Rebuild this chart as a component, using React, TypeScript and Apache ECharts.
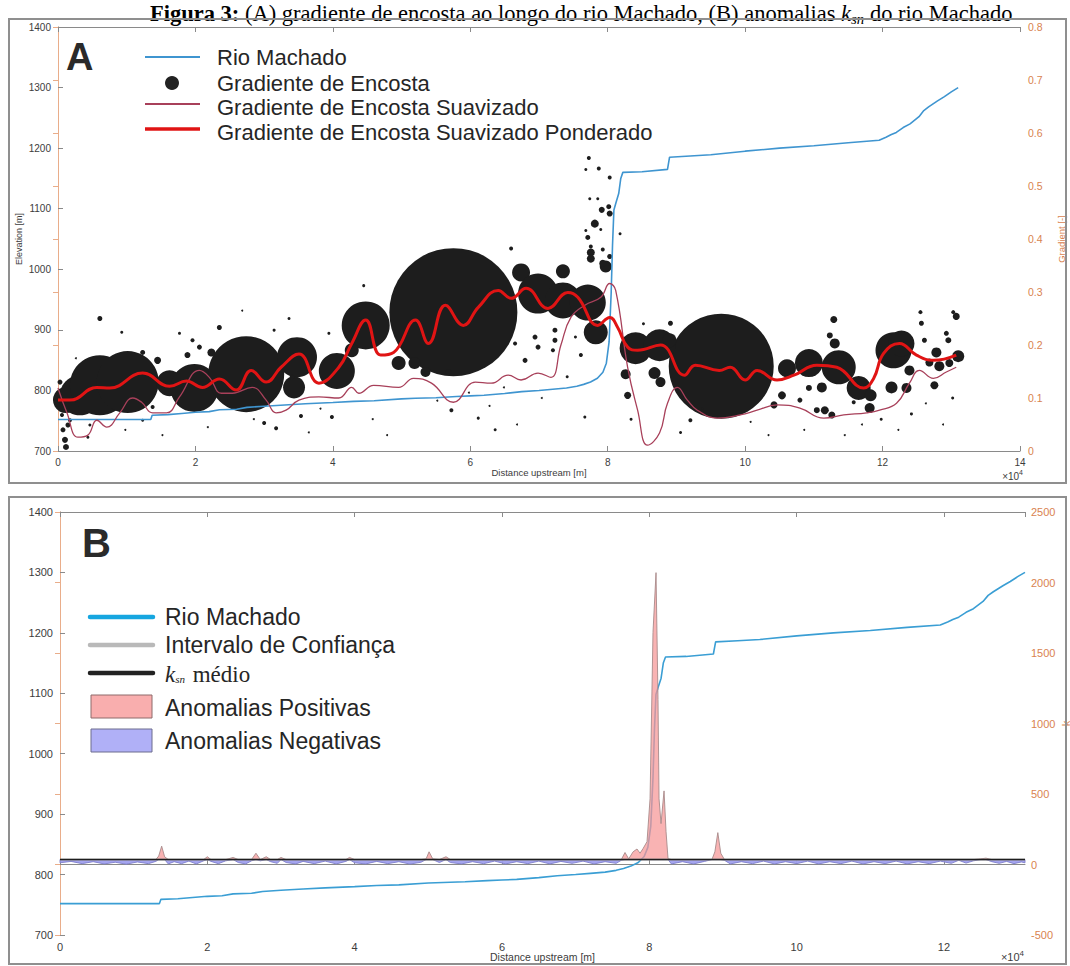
import React, { useEffect, useRef } from 'react';
import * as echarts from 'echarts';

// ---------- DATA ----------
// River long profile: [distance upstream (m), elevation (m)]
const RIVER_PROFILE: [number, number][] = [
  [0, 752], [13500, 752], [13700, 759], [16000, 760], [18000, 762], [20000, 764], [22000, 765],
  [23500, 768], [26000, 769], [27500, 772], [30000, 774], [33000, 776], [36000, 778], [40000, 780],
  [43000, 782], [46000, 783], [50000, 786], [52000, 787], [55000, 788], [58000, 790], [60000, 791],
  [62000, 792], [65000, 795], [67500, 798], [70000, 800], [72000, 802], [74000, 804], [75500, 807],
  [76500, 810], [77500, 814], [78500, 820], [79300, 830], [79800, 845], [80200, 880], [80500, 960],
  [80700, 1040], [80900, 1098], [81200, 1110], [81600, 1125], [81900, 1150], [82200, 1160],
  [85000, 1161], [88700, 1165], [89000, 1185], [92000, 1187], [95000, 1189], [100000, 1195],
  [105000, 1200], [110000, 1204], [115000, 1209], [119500, 1213], [120500, 1218], [121200, 1222],
  [122000, 1226], [123000, 1234], [124000, 1240], [125300, 1252], [126000, 1262], [126700, 1268],
  [128000, 1278], [129000, 1285], [130000, 1293], [131000, 1300]
];

// Slope-gradient points: [distance (m), gradient (-), marker diameter]
const SLOPE_POINTS: [number, number, number][] = [
  [57540, 0.262, 128], [96520, 0.160, 105],
  [1160, 0.096, 26], [3190, 0.105, 40], [6090, 0.124, 60], [10140, 0.130, 62], [16230, 0.128, 26],
  [19860, 0.119, 48], [27390, 0.145, 76], [34780, 0.177, 40], [34350, 0.120, 22], [40580, 0.151, 36],
  [44780, 0.237, 48], [42750, 0.190, 14], [49570, 0.166, 14], [51880, 0.166, 12], [53480, 0.149, 10],
  [67390, 0.337, 18], [73480, 0.339, 14], [69860, 0.297, 40], [73480, 0.284, 36], [77100, 0.280, 36],
  [78260, 0.224, 24], [77540, 0.3745, 8], [79710, 0.348, 12], [79280, 0.354, 7],
  [77250, 0.553, 4], [76810, 0.531, 3], [78700, 0.533, 4], [80290, 0.516, 4], [77390, 0.476, 3],
  [78550, 0.476, 3], [79130, 0.455, 6], [80150, 0.461, 5], [80290, 0.448, 6], [78120, 0.429, 8],
  [76810, 0.416, 3], [78990, 0.418, 3], [77100, 0.403, 5], [77540, 0.386, 4], [79280, 0.380, 4],
  [80290, 0.367, 5], [77540, 0.363, 8],
  [84060, 0.194, 32], [87540, 0.1995, 32], [88990, 0.209, 14], [82610, 0.145, 10], [82900, 0.105, 7],
  [86810, 0.147, 12], [87680, 0.130, 10], [89130, 0.241, 5],
  [106090, 0.156, 18], [109280, 0.166, 28], [113620, 0.158, 34], [116520, 0.119, 24], [118260, 0.105, 12],
  [121590, 0.190, 36], [122750, 0.203, 26], [131010, 0.179, 12], [127830, 0.186, 10], [128260, 0.160, 10],
  [126810, 0.167, 8], [129710, 0.166, 8], [130720, 0.254, 7], [130290, 0.262, 4], [125510, 0.262, 4],
  [125650, 0.241, 5], [126090, 0.209, 5], [129280, 0.222, 5], [129570, 0.209, 6], [123910, 0.152, 10],
  [123480, 0.119, 10], [121300, 0.120, 12], [127540, 0.124, 8], [112900, 0.248, 7], [112320, 0.218, 6],
  [113040, 0.203, 10], [111160, 0.120, 10], [109280, 0.119, 6], [105360, 0.105, 8], [104200, 0.087, 7],
  [111590, 0.077, 8], [112610, 0.068, 7], [118120, 0.081, 10], [107970, 0.096, 5], [110430, 0.077, 6],
  [115800, 0.092, 4],
  [725, 0.040, 5], [1015, 0.021, 6], [1160, 0.0075, 6], [1450, 0.049, 5], [580, 0.068, 4], [1740, 0.058, 4],
  [290, 0.130, 5], [6090, 0.250, 5], [4640, 0.049, 3], [4350, 0.026, 3], [12320, 0.058, 3], [13770, 0.083, 4],
  [14490, 0.171, 7], [12320, 0.186, 5], [18840, 0.181, 6], [20580, 0.196, 5], [22320, 0.186, 8],
  [23480, 0.233, 5], [19570, 0.209, 4], [17680, 0.222, 3], [30000, 0.053, 4], [31740, 0.043, 4],
  [35360, 0.066, 4], [39860, 0.064, 4], [34060, 0.139, 5], [31450, 0.228, 3], [33620, 0.250, 3],
  [39420, 0.222, 3], [26810, 0.265, 2], [9280, 0.224, 3],
  [56810, 0.149, 6], [72320, 0.228, 5], [69420, 0.215, 5], [72320, 0.209, 5], [67970, 0.171, 5],
  [69860, 0.196, 5], [72030, 0.190, 4], [76090, 0.181, 4], [66520, 0.203, 4], [57250, 0.077, 4],
  [61160, 0.062, 3], [63620, 0.040, 3], [76670, 0.064, 3], [92030, 0.058, 4], [65940, 0.382, 4],
  [44490, 0.312, 3],
  [2600, 0.175, 2], [9800, 0.040, 2], [15200, 0.030, 2], [21800, 0.045, 2], [24500, 0.095, 2],
  [28500, 0.060, 2], [36500, 0.035, 2], [38200, 0.080, 2], [45800, 0.060, 2], [47900, 0.030, 2],
  [55200, 0.095, 2], [59800, 0.110, 2], [62800, 0.085, 2], [64900, 0.120, 2], [66800, 0.050, 2],
  [70400, 0.100, 2], [74100, 0.140, 3], [75300, 0.215, 3], [81800, 0.410, 3], [83400, 0.060, 3],
  [85200, 0.240, 3], [90600, 0.035, 3], [93800, 0.080, 2], [100800, 0.055, 2], [103400, 0.030, 2],
  [108600, 0.040, 2], [114500, 0.030, 2], [117000, 0.050, 2], [119800, 0.060, 3], [122300, 0.040, 2],
  [124200, 0.070, 3], [126300, 0.090, 2], [128800, 0.050, 2], [130200, 0.100, 3]
];

// Smoothed slope gradient: [distance (m), gradient (-)]
const SLOPE_SMOOTHED: [number, number][] = [
  [0, 0.119], [1300, 0.072], [2900, 0.026], [4350, 0.030], [5650, 0.058], [7100, 0.045], [8990, 0.072],
  [10870, 0.100], [12170, 0.092], [13770, 0.072], [15800, 0.072], [17680, 0.102], [20580, 0.152],
  [22030, 0.139], [23770, 0.109], [25360, 0.109], [28260, 0.120], [30290, 0.096], [31740, 0.072],
  [33190, 0.077], [35070, 0.096], [37970, 0.102], [40870, 0.100], [42750, 0.120], [43770, 0.109],
  [45940, 0.124], [49570, 0.120], [51740, 0.137], [54350, 0.128], [57540, 0.092], [60730, 0.130],
  [63040, 0.128], [65510, 0.143], [67390, 0.134], [69860, 0.147], [71740, 0.139], [73190, 0.200],
  [74640, 0.252], [76670, 0.275], [78990, 0.290], [80290, 0.316], [81160, 0.303], [82900, 0.158],
  [84350, 0.077], [85800, 0.011], [87540, 0.034], [88700, 0.090], [90140, 0.120], [91590, 0.096],
  [93040, 0.077], [95940, 0.062], [99280, 0.068], [101740, 0.077], [104640, 0.087], [107970, 0.081],
  [111450, 0.062], [114350, 0.068], [117680, 0.072], [119570, 0.077], [122030, 0.090], [123910, 0.128],
  [125360, 0.152], [127390, 0.137], [129280, 0.149], [130720, 0.158]
];

// Weighted smoothed slope gradient: [distance (m), gradient (-)]
const SLOPE_WEIGHTED: [number, number][] = [
  [0, 0.096], [1740, 0.096], [5650, 0.120], [7540, 0.119], [12320, 0.147], [16230, 0.122], [18700, 0.132],
  [21010, 0.120], [23480, 0.136], [25940, 0.115], [28120, 0.152], [30290, 0.130], [32460, 0.158],
  [35070, 0.183], [37970, 0.128], [40870, 0.158], [42750, 0.203], [44780, 0.247], [46960, 0.181],
  [48840, 0.186], [52030, 0.247], [53910, 0.203], [56380, 0.275], [58990, 0.237], [61160, 0.271],
  [64060, 0.303], [65940, 0.288], [68120, 0.307], [71300, 0.269], [74200, 0.299], [75650, 0.290],
  [78550, 0.237], [80290, 0.252], [81450, 0.233], [82900, 0.196], [84350, 0.190], [87680, 0.200],
  [91160, 0.143], [92750, 0.162], [96230, 0.152], [97830, 0.158], [100000, 0.134], [101740, 0.152],
  [104640, 0.134], [107100, 0.143], [110430, 0.162], [113330, 0.158], [117250, 0.119], [118700, 0.137],
  [120150, 0.184], [122460, 0.203], [124930, 0.181], [127390, 0.171], [130720, 0.181]
];

// Normalised steepness index profile: [distance (m), ksn]
const KSN_PROFILE: [number, number][] = [
  [0, 12], [1500, 22], [3000, 6], [4500, 20], [6000, 4], [7500, 16], [9000, 2], [10500, 18], [12000, 6],
  [13000, 22], [13400, 60], [13800, 130], [14200, 55], [14700, 4], [15500, 20], [16500, 6], [17500, 24],
  [18500, 4], [19500, 26], [20000, 55], [20500, 22], [21500, 6], [22500, 26], [23500, 50], [24200, 14],
  [25200, 4], [26000, 26], [26600, 80], [27200, 26], [28000, 55], [28600, 20], [29500, 8], [30000, 50],
  [30700, 14], [32000, 4], [33000, 22], [34500, 6], [36000, 24], [37500, 4], [38800, 22], [39300, 50],
  [40000, 12], [41500, 4], [43000, 22], [44500, 6], [46000, 20], [47500, 3], [49000, 16], [49700, 40],
  [50100, 90], [50600, 40], [51500, 14], [52400, 55], [53000, 14], [54500, 4], [56000, 20], [57500, 6],
  [59000, 24], [60500, 4], [62000, 20], [63500, 6], [65000, 24], [66500, 4], [68000, 22], [69500, 8],
  [71000, 24], [72500, 4], [74000, 20], [75500, 8], [76200, 30], [76700, 85], [77200, 40], [77800, 90],
  [78330, 110], [78740, 80], [79150, 113], [79690, 162], [80100, 466], [80500, 1645], [80910, 2070],
  [81180, 1170], [81320, 466], [81590, 290], [82000, 522], [82270, 233], [82540, 42], [83000, 4],
  [84500, 20], [86000, 4], [87500, 22], [88500, 35], [88900, 90], [89300, 226], [89700, 80], [90200, 30],
  [91000, 4], [92500, 20], [94000, 6], [95500, 24], [97000, 4], [98500, 20], [100000, 6], [101500, 24],
  [103000, 4], [104500, 20], [106000, 6], [107500, 24], [109000, 4], [110500, 20], [112000, 6],
  [113500, 24], [115000, 4], [116500, 20], [118000, 6], [119500, 24], [121000, 8], [122000, 30],
  [123000, 10], [124000, 26], [125000, 40], [125700, 45], [126500, 20], [127500, 8], [128500, 22],
  [129500, 6], [130500, 18], [131000, 12]
];
const KSN_MEAN = 35;
const KSN_CI_LOW = 32.5;
const KSN_CI_HIGH = 37.5;

const TITLE = '{b|Figura 3:} (A) gradiente de encosta ao longo do rio Machado, (B) anomalias {i|k}{s|sn} do rio Machado';
const LEGEND_A = ['Rio Machado', 'Gradiente de Encosta', 'Gradiente de Encosta Suavizado', 'Gradiente de Encosta Suavizado Ponderado'];
const LEGEND_B = ['Rio Machado', 'Intervalo de Confiança', '{i|k}{s|sn} médio', 'Anomalias Positivas', 'Anomalias Negativas'];

// ---------- STYLE ----------
const SANS = 'Liberation Sans, Arial, Helvetica, sans-serif';
const SERIF = 'Liberation Serif, Times New Roman, serif';
const AX = '#8a8a8a';
const LBL = '#3c3c3c';
const ORANGE_LINE = '#e9ad8a';
const ORANGE_TXT = '#d9834f';

const xFmt = (v: number) => (v === 0 ? '0' : String(v / 10000));
const plain = (v: number) => String(v);

export default function App() {
  const ref = useRef<HTMLDivElement>(null);

  useEffect(() => {
    if (!ref.current) return;
    const chart = echarts.init(ref.current, undefined, { renderer: 'svg' });

    const xEnds = [KSN_PROFILE[0][0], KSN_PROFILE[KSN_PROFILE.length - 1][0]];

    const anomalyArea = (name: string, upper: boolean, fill: string, stroke: string, z: number) => ({
      name, type: 'custom', coordinateSystem: 'cartesian2d', xAxisIndex: 2, yAxisIndex: 3,
      data: [[KSN_PROFILE[0][0], KSN_MEAN]], encode: { x: 0, y: 1 }, silent: true, z,
      renderItem: (_p: any, api: any) => {
        const edge = KSN_PROFILE.map(([d, k]) =>
          api.coord([d, upper ? Math.max(k, KSN_MEAN) : Math.min(k, KSN_MEAN)]));
        const base = KSN_PROFILE.slice().reverse().map(([d]) => api.coord([d, KSN_MEAN]));
        return {
          type: 'polygon',
          shape: { points: edge.concat(base) },
          style: { fill, stroke, lineWidth: 0.9 },
        };
      },
    });

    const bottomX = (grid: number, max: number, name: string, fs: number, gap: number) => ({
      type: 'value', gridIndex: grid, min: 0, max, interval: 20000, position: 'bottom',
      name, nameLocation: 'middle', nameGap: gap, nameMoveOverlap: false,
      nameTextStyle: { fontSize: fs - 0.5, color: LBL, fontFamily: SANS },
      axisLine: { show: true, lineStyle: { color: AX, width: 1 } },
      axisTick: { show: true, inside: true, length: 5, lineStyle: { color: AX } },
      axisLabel: { formatter: xFmt, fontSize: fs, color: LBL, fontFamily: SANS, margin: 6, showMaxLabel: max % 20000 === 0 },
      splitLine: { show: false },
    });
    const topX = (grid: number, max: number) => ({
      type: 'value', gridIndex: grid, min: 0, max, interval: 20000, position: 'top',
      axisLine: { show: true, lineStyle: { color: AX, width: 1 } },
      axisTick: { show: true, inside: true, length: 5, lineStyle: { color: AX } },
      axisLabel: { show: false }, splitLine: { show: false },
    });

    const graphic: any[] = [
      // title
      {
        type: 'text', x: 150, y: 13,
        style: {
          text: TITLE, fill: '#000', fontFamily: SERIF, fontSize: 22.5,
          align: 'left', verticalAlign: 'middle', textAlign: 'left', textVerticalAlign: 'middle',
          rich: {
            b: { fontWeight: 'bold', fontFamily: SERIF, fontSize: 22.5, fill: '#000' },
            i: { fontStyle: 'italic', fontFamily: SERIF, fontSize: 22.5, fill: '#000' },
            s: { fontStyle: 'italic', fontFamily: SERIF, fontSize: 15, fill: '#000', padding: [12, 0, 0, 0] },
          },
        },
      },
      // panel frames
      { type: 'rect', shape: { x: 9, y: 19, width: 1057, height: 464 }, style: { fill: 'none', stroke: '#8f8f8f', lineWidth: 2 } },
      { type: 'rect', shape: { x: 9, y: 497, width: 1057, height: 467 }, style: { fill: 'none', stroke: '#8f8f8f', lineWidth: 2 } },
      // panel letters
      { type: 'text', x: 66, y: 57, style: { text: 'A', fontFamily: SANS, fontWeight: 'bold', fontSize: 38, fill: '#2a2a2a', verticalAlign: 'middle', textVerticalAlign: 'middle' } },
      { type: 'text', x: 82, y: 543, style: { text: 'B', fontFamily: SANS, fontWeight: 'bold', fontSize: 40, fill: '#2a2a2a', verticalAlign: 'middle', textVerticalAlign: 'middle' } },
      // legend A
      { type: 'line', shape: { x1: 145, y1: 57, x2: 200, y2: 57 }, style: { stroke: '#3f95d0', lineWidth: 2 } },
      { type: 'circle', shape: { cx: 172, cy: 83, r: 7 }, style: { fill: '#222' } },
      { type: 'line', shape: { x1: 145, y1: 104, x2: 200, y2: 104 }, style: { stroke: '#a8405a', lineWidth: 2 } },
      { type: 'line', shape: { x1: 145, y1: 129, x2: 200, y2: 129 }, style: { stroke: '#e01414', lineWidth: 3.5 } },
      ...LEGEND_A.map((t, i) => ({
        type: 'text', x: 217, y: [57, 83, 107, 132][i],
        style: { text: t, fontFamily: SANS, fontSize: 22, fill: '#262626', verticalAlign: 'middle', textVerticalAlign: 'middle' },
      })),
      // legend B
      { type: 'line', shape: { x1: 90, y1: 617, x2: 153, y2: 617 }, style: { stroke: '#16a6e0', lineWidth: 4.5, lineCap: 'round' } },
      { type: 'line', shape: { x1: 90, y1: 645, x2: 153, y2: 645 }, style: { stroke: '#b9b9b9', lineWidth: 4.5, lineCap: 'round' } },
      { type: 'line', shape: { x1: 90, y1: 673, x2: 153, y2: 673 }, style: { stroke: '#222', lineWidth: 4.5, lineCap: 'round' } },
      { type: 'rect', shape: { x: 91, y: 695, width: 61, height: 23 }, style: { fill: '#f9aeae', stroke: '#8e6a6a', lineWidth: 1 } },
      { type: 'rect', shape: { x: 91, y: 729, width: 61, height: 23 }, style: { fill: '#b0b0f7', stroke: '#6c6c8e', lineWidth: 1 } },
      ...LEGEND_B.map((t, i) => ({
        type: 'text', x: 165, y: [617, 645, 674, 708, 741][i],
        style: {
          text: t, fontFamily: i === 2 ? SERIF : SANS, fontSize: 23, fill: '#262626',
          verticalAlign: 'middle', textVerticalAlign: 'middle',
          rich: {
            i: { fontStyle: 'italic', fontFamily: SERIF, fontSize: 23, fill: '#262626' },
            s: { fontStyle: 'italic', fontFamily: SERIF, fontSize: 11, fill: '#262626', padding: [10, 2, 0, 0] },
          },
        },
      })),
      // x10^4 multipliers
      {
        type: 'text', x: 1023, y: 476,
        style: { text: '×10{s|4}', fontFamily: SANS, fontSize: 10, fill: LBL, align: 'right', textAlign: 'right', verticalAlign: 'middle', textVerticalAlign: 'middle', rich: { s: { fontSize: 7, fill: LBL, padding: [0, 0, 7, 0] } } },
      },
      {
        type: 'text', x: 1024, y: 957,
        style: { text: '×10{s|4}', fontFamily: SANS, fontSize: 11, fill: LBL, align: 'right', textAlign: 'right', verticalAlign: 'middle', textVerticalAlign: 'middle', rich: { s: { fontSize: 8, fill: LBL, padding: [0, 0, 8, 0] } } },
      },
    ].map((el) => ({ z: 100, ...el }));

    const option: any = {
      animation: false,
      backgroundColor: '#ffffff',
      grid: [
        { left: 58, top: 27, width: 962, height: 424, show: false, containLabel: false, outerBoundsMode: 'none' },
        { left: 60, top: 512, width: 965, height: 423, show: false, containLabel: false, outerBoundsMode: 'none' },
      ],
      xAxis: [
        bottomX(0, 140000, 'Distance upstream [m]', 10, 16),
        topX(0, 140000),
        bottomX(1, 131000, 'Distance upstream [m]', 11, 16),
        topX(1, 131000),
      ],
      yAxis: [
        {
          type: 'value', gridIndex: 0, min: 700, max: 1400, interval: 100, position: 'left',
          name: 'Elevation [m]', nameLocation: 'middle', nameGap: 35, nameRotate: 90, nameMoveOverlap: false,
          nameTextStyle: { fontSize: 9, color: LBL, fontFamily: SANS },
          axisLine: { show: true, lineStyle: { color: AX } },
          axisTick: { show: true, inside: true, length: 5, lineStyle: { color: AX } },
          axisLabel: { fontSize: 10, color: LBL, fontFamily: SANS, margin: 7, formatter: plain },
          splitLine: { show: false },
        },
        {
          type: 'value', gridIndex: 0, min: 0, max: 0.8, interval: 0.1, position: 'right',
          name: 'Gradient [-]', nameLocation: 'middle', nameGap: 36, nameRotate: 90, nameMoveOverlap: false,
          nameTextStyle: { fontSize: 9.5, color: ORANGE_TXT, fontFamily: SANS },
          axisLine: { show: true, lineStyle: { color: ORANGE_LINE } },
          axisTick: { show: true, inside: true, length: 5, lineStyle: { color: ORANGE_LINE } },
          axisLabel: { fontSize: 10.5, color: ORANGE_TXT, fontFamily: SANS, margin: 8, formatter: (v: number) => (v === 0 ? '0' : v.toFixed(1)) },
          splitLine: { show: false },
        },
        {
          type: 'value', gridIndex: 1, min: 700, max: 1400, interval: 100, position: 'left',
          axisLine: { show: true, lineStyle: { color: AX } },
          axisTick: { show: true, inside: true, length: 5, lineStyle: { color: AX } },
          axisLabel: { fontSize: 11, color: LBL, fontFamily: SANS, margin: 7, formatter: plain },
          splitLine: { show: false },
        },
        {
          type: 'value', gridIndex: 1, min: -500, max: 2500, interval: 500, position: 'right',
          name: 'k', nameLocation: 'middle', nameGap: 35, nameRotate: 90, nameMoveOverlap: false,
          nameTextStyle: { fontSize: 11, color: ORANGE_TXT, fontFamily: SANS },
          axisLine: { show: true, lineStyle: { color: ORANGE_LINE } },
          axisTick: { show: true, inside: true, length: 5, lineStyle: { color: ORANGE_LINE } },
          axisLabel: { fontSize: 11, color: ORANGE_TXT, fontFamily: SANS, margin: 6, formatter: plain },
          splitLine: { show: false },
        },
      ],
      series: [
        {
          name: 'Gradiente de Encosta', type: 'scatter', xAxisIndex: 0, yAxisIndex: 1,
          data: SLOPE_POINTS, symbol: 'circle', symbolSize: (v: number[]) => v[2],
          itemStyle: { color: '#1d1d1d', opacity: 1 }, clip: true, silent: true, z: 2,
        },
        {
          name: 'Rio Machado', type: 'line', xAxisIndex: 0, yAxisIndex: 0, data: RIVER_PROFILE,
          symbol: 'none', lineStyle: { color: '#3f95d0', width: 1.6 }, silent: true, z: 3,
        },
        {
          name: 'Gradiente de Encosta Suavizado', type: 'line', xAxisIndex: 0, yAxisIndex: 1, data: SLOPE_SMOOTHED,
          symbol: 'none', smooth: 0.45, lineStyle: { color: '#a8405a', width: 1.3 }, silent: true, z: 4,
        },
        {
          name: 'Gradiente de Encosta Suavizado Ponderado', type: 'line', xAxisIndex: 0, yAxisIndex: 1, data: SLOPE_WEIGHTED,
          symbol: 'none', smooth: 0.45, lineStyle: { color: '#e01414', width: 3 }, silent: true, z: 5,
        },
        // Panel B
        {
          name: 'Rio Machado B', type: 'line', xAxisIndex: 2, yAxisIndex: 2, data: RIVER_PROFILE,
          symbol: 'none', lineStyle: { color: '#3a9ed4', width: 1.6 }, silent: true, z: 2,
        },
        anomalyArea('Anomalias Negativas', false, 'rgba(160,160,238,0.95)', '#7f7fcc', 3),
        anomalyArea('Anomalias Positivas', true, 'rgba(246,150,150,0.72)', '#a88a8a', 4),
        {
          name: 'CI low', type: 'line', xAxisIndex: 2, yAxisIndex: 3, data: xEnds.map((d) => [d, KSN_CI_LOW]),
          symbol: 'none', lineStyle: { color: '#b9b9b9', width: 1 }, silent: true, z: 5,
        },
        {
          name: 'CI high', type: 'line', xAxisIndex: 2, yAxisIndex: 3, data: xEnds.map((d) => [d, KSN_CI_HIGH]),
          symbol: 'none', lineStyle: { color: '#b9b9b9', width: 1 }, silent: true, z: 5,
        },
        {
          name: 'ksn médio', type: 'line', xAxisIndex: 2, yAxisIndex: 3, data: xEnds.map((d) => [d, KSN_MEAN]),
          symbol: 'none', lineStyle: { color: '#1e1e1e', width: 1.6 }, silent: true, z: 6,
        },
      ],
      graphic: { elements: graphic },
    };

    chart.setOption(option);
    return () => chart.dispose();
  }, []);

  return (
    <div
      ref={ref}
      style={{ position: 'fixed', left: 0, top: 0, width: 1070, height: 966, background: '#fff' }}
    />
  );
}
